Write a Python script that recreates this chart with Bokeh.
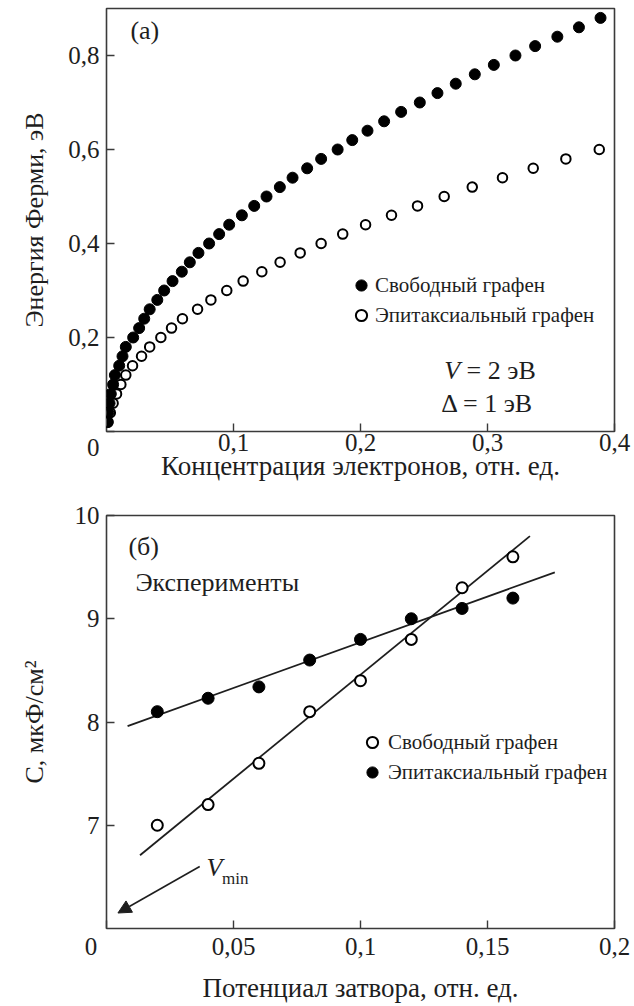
import math
from bokeh.plotting import figure
from bokeh.models import (Range1d, FixedTicker, Label, Legend, LegendItem, Arrow, NormalHead,
                          AllLabels)
from bokeh.layouts import column
from bokeh.embed import file_html
from bokeh.resources import INLINE

FONT = "Liberation Serif"
INK = "#1e1e1e"
FRAME = "#3a3a3a"
NB = "\u00a0"

# ---------------- Panel (a) data ----------------
a_free_y = [0.02, 0.04, 0.06, 0.08, 0.10, 0.12, 0.14, 0.16, 0.18, 0.20,
            0.22, 0.24, 0.26, 0.28, 0.30, 0.32, 0.34, 0.36, 0.38, 0.40,
            0.42, 0.44, 0.46, 0.48, 0.50, 0.52, 0.54, 0.56, 0.58, 0.60,
            0.62, 0.64, 0.66, 0.68, 0.70, 0.72, 0.74, 0.76, 0.78, 0.80,
            0.82, 0.84, 0.86, 0.88]
a_free_x = [0.0008, 0.0014, 0.0024, 0.0034, 0.0052, 0.0066, 0.0100, 0.0126, 0.0152, 0.0210,
            0.0257, 0.0297, 0.0340, 0.0400, 0.0454, 0.0520, 0.0593, 0.0656, 0.0724, 0.0808,
            0.0887, 0.0966, 0.1066, 0.1163, 0.1260, 0.1365, 0.1465, 0.1580, 0.1690, 0.1820,
            0.1935, 0.2055, 0.2186, 0.2320, 0.2467, 0.2606, 0.2750, 0.2900, 0.3050, 0.3220,
            0.3375, 0.3550, 0.3720, 0.3890]
a_epi_y = [0.02, 0.04, 0.06, 0.08, 0.10, 0.12, 0.14, 0.16, 0.18, 0.20,
           0.22, 0.24, 0.26, 0.28, 0.30, 0.32, 0.34, 0.36, 0.38, 0.40,
           0.42, 0.44, 0.46, 0.48, 0.50, 0.52, 0.54, 0.56, 0.58, 0.60]
a_epi_x = [0.0012, 0.0030, 0.0052, 0.0079, 0.0113, 0.0152, 0.0205, 0.0276, 0.0340, 0.0428,
           0.0512, 0.0598, 0.0717, 0.0822, 0.0947, 0.1076, 0.1223, 0.1367, 0.1525, 0.1690,
           0.1860, 0.2040, 0.2244, 0.2449, 0.2659, 0.2880, 0.3118, 0.3360, 0.3617, 0.3880]
a_xticks = [0.1, 0.2, 0.3, 0.4]
a_xtick_labels = ["0,1", "0,2", "0,3", "0,4"]
# the shared corner "0" is carried by the y axis (second line of its label)
a_yticks = [0.0, 0.2, 0.4, 0.6, 0.8]
a_ytick_labels = ["\n0", "0,2", "0,4", "0,6", "0,8"]
a_series = ["Свободный графен", "Эпитаксиальный графен"]

# ---------------- Panel (b) data ----------------
b_x = [0.02, 0.04, 0.06, 0.08, 0.10, 0.12, 0.14, 0.16]
b_free_c = [7.0, 7.2, 7.6, 8.1, 8.4, 8.8, 9.3, 9.6]
b_epi_c = [8.1, 8.23, 8.34, 8.6, 8.8, 9.0, 9.1, 9.2]
b_fit_free_x = [0.0132, 0.1667]
b_fit_free_y = [6.71, 9.80]
b_fit_epi_x = [0.0083, 0.1765]
b_fit_epi_y = [7.96, 9.45]
vmin_arrow_x = [0.0367, 0.0045]
vmin_arrow_y = [6.60, 6.15]
b_xticks = [0.0, 0.05, 0.1, 0.15, 0.2]
b_xtick_labels = ["0" + NB * 5, "0,05", "0,1", "0,15", "0,2"]
b_yticks = [7, 8, 9, 10]
b_ytick_labels = ["7", "8", "9", "10"]
b_series = ["Свободный графен", "Эпитаксиальный графен"]


def style(p, xticks, xlabels, yticks, ylabels, xstand, ystand):
    p.grid.visible = False
    p.outline_line_color = FRAME
    p.outline_line_width = 1.6
    p.background_fill_color = "white"
    p.border_fill_color = "white"
    for ax, t, l, s in ((p.xaxis[0], xticks, xlabels, xstand), (p.yaxis[0], yticks, ylabels, ystand)):
        ax.ticker = FixedTicker(ticks=t)
        ax.major_label_overrides = dict(zip(t, l))
        ax.major_label_policy = AllLabels()
        ax.axis_line_color = None
        ax.major_tick_in = 8
        ax.major_tick_out = 0
        ax.major_tick_line_color = FRAME
        ax.major_tick_line_width = 1.4
        ax.minor_tick_line_color = None
        ax.major_label_standoff = s
        ax.major_label_text_font = FONT
        ax.major_label_text_font_size = "25px"
        ax.major_label_text_color = INK
        ax.axis_label_text_font = FONT
        ax.axis_label_text_font_size = "27px"
        ax.axis_label_text_font_style = "normal"
        ax.axis_label_text_color = INK


def lab(p, x, y, text, size="26px", style_="normal", align="left", baseline="middle"):
    p.add_layout(Label(x=x, y=y, text=text, text_font=FONT, text_font_size=size,
                       text_font_style=style_, text_color=INK, text_align=align,
                       text_baseline=baseline))


# ================= Figure (a) =================
pa = figure(width=634, height=500, output_backend="svg", toolbar_location=None,
            x_range=Range1d(0, 0.4), y_range=Range1d(0, 0.9),
            min_border_left=104, min_border_right=20, min_border_top=8, min_border_bottom=69)
style(pa, a_xticks, a_xtick_labels, a_yticks, a_ytick_labels, 2, 7)
pa.xaxis.axis_label = "Концентрация электронов, отн. ед."
pa.xaxis.axis_label_standoff = -3
pa.yaxis.axis_label = "Энергия Ферми, эВ"
pa.yaxis.axis_label_text_font_size = "26px"
pa.yaxis.axis_label_standoff = 16

ra_epi = pa.scatter(a_epi_x, a_epi_y, size=9.5, marker="circle", fill_color="white",
                    line_color="black", line_width=2)
ra_free = pa.scatter(a_free_x, a_free_y, size=11, marker="circle", fill_color="black",
                     line_color="black", line_width=1)

leg_a = Legend(items=[LegendItem(label=a_series[0], renderers=[ra_free]),
                      LegendItem(label=a_series[1], renderers=[ra_epi])],
               location=(241, 102), orientation="vertical",
               glyph_width=28, glyph_height=28, label_height=28, label_standoff=-5,
               spacing=2, padding=0, margin=0, border_line_color=None,
               background_fill_alpha=0, label_text_font=FONT,
               label_text_font_size="21px", label_text_color=INK)
pa.add_layout(leg_a)

# helpers: reference-page px -> data, panel (a) frame spans x 104..614, y 8..431
def axa(px):
    return (px - 104) / 510 * 0.4

def aya(py):
    return (431 - py) / 423 * 0.9

lab(pa, axa(128), aya(30), "(a)")
lab(pa, axa(443), aya(370), "V", style_="italic")
lab(pa, axa(459), aya(370), NB + "= 2 эВ")
lab(pa, axa(440), aya(403), "Δ = 1 эВ")

# ================= Figure (b) =================
pb = figure(width=634, height=505, output_backend="svg", toolbar_location=None,
            x_range=Range1d(0, 0.2), y_range=Range1d(6, 10),
            min_border_left=106, min_border_right=18, min_border_top=15, min_border_bottom=74)
style(pb, b_xticks, b_xtick_labels, b_yticks, b_ytick_labels, 4, 7)
pb.xaxis.axis_label = "Потенциал затвора, отн. ед."
pb.xaxis.axis_label_standoff = 10
pb.yaxis.axis_label = "C, мкФ/см²"
pb.yaxis.axis_label_text_font_size = "26px"
pb.yaxis.axis_label_standoff = 23

pb.line(b_fit_free_x, b_fit_free_y, line_width=1.8, line_color=INK)
pb.line(b_fit_epi_x, b_fit_epi_y, line_width=1.8, line_color=INK)
rb_free = pb.scatter(b_x, b_free_c, size=11, marker="circle", fill_color="white",
                     line_color="black", line_width=2)
rb_epi = pb.scatter(b_x, b_epi_c, size=12, marker="circle", fill_color="black",
                    line_color="black", line_width=1)

leg_b = Legend(items=[LegendItem(label=b_series[0], renderers=[rb_free]),
                      LegendItem(label=b_series[1], renderers=[rb_epi])],
               location=(252, 142), orientation="vertical",
               glyph_width=28, glyph_height=28, label_height=28, label_standoff=2,
               spacing=2, padding=0, margin=0, border_line_color=None,
               background_fill_alpha=0, label_text_font=FONT,
               label_text_font_size="21px", label_text_color=INK)
pb.add_layout(leg_b)

pb.add_layout(Arrow(end=NormalHead(size=13, fill_color=INK, line_color=INK, line_width=1),
                    x_start=vmin_arrow_x[0], y_start=vmin_arrow_y[0],
                    x_end=vmin_arrow_x[1], y_end=vmin_arrow_y[1],
                    line_width=1.6, line_color=INK))

# helpers: reference-page px -> data, panel (b) frame spans x 106..616, y 515..931
def axb(px):
    return (px - 106) / 510 * 0.2

def ayb(py):
    return 6 + (931 - py) / 416 * 4

lab(pb, axb(128), ayb(546), "(б)")
lab(pb, axb(135), ayb(582), "Эксперименты")
lab(pb, axb(206.5), ayb(870), "V", style_="italic")
lab(pb, axb(222), ayb(881), "min", size="17px")

layout = column(pa, pb)
open("out.html", "w").write(file_html(layout, INLINE))
